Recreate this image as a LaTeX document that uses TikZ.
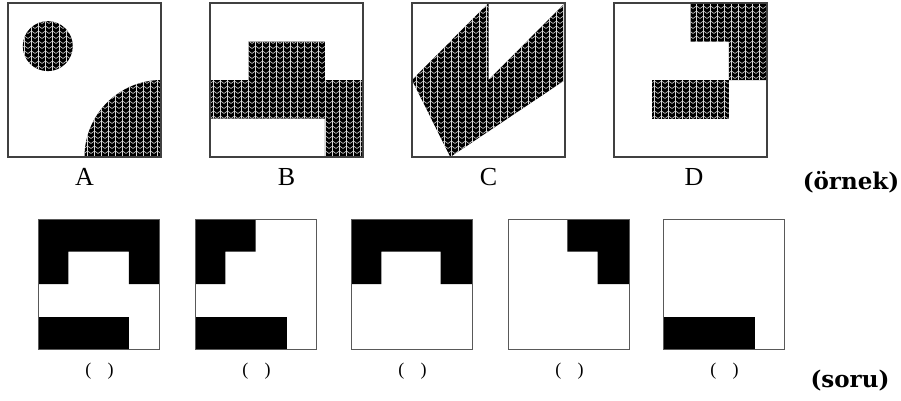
\documentclass[tikz,border=0pt]{standalone}
\usepackage{fontspec}
\setmainfont{Liberation Serif}
\newfontfamily\tagfont{DejaVu Serif}
\usetikzlibrary{patterns}

% knitted texture, drawn white over a black base
\pgfdeclarepatternformonly{knit}{\pgfqpoint{-1pt}{-1pt}}{\pgfqpoint{8pt}{6pt}}{\pgfqpoint{7pt}{5pt}}{
  \pgfsetlinewidth{0.55pt}
  \pgfpathmoveto{\pgfqpoint{0pt}{1.5pt}}
  \pgfpathlineto{\pgfqpoint{3.5pt}{4pt}}
  \pgfpathlineto{\pgfqpoint{7pt}{1.5pt}}
  \pgfusepath{stroke}
  \pgfsetlinewidth{0.45pt}
  \pgfpathmoveto{\pgfqpoint{3.5pt}{-0.5pt}}
  \pgfpathlineto{\pgfqpoint{3.5pt}{5.5pt}}
  \pgfusepath{stroke}
}

\begin{document}
\begin{tikzpicture}[x=1pt,y=-1pt,
    panel/.style={draw=black!75, line width=1.1pt},
    answer/.style={draw=black!65, line width=1pt},
    knit/.style={preaction={fill=black}, pattern=knit, pattern color=white!85!black},
    letter/.style={font=\fontsize{26}{30}\selectfont},
    blank/.style={font=\fontsize{18}{22}\selectfont},
    tag/.style={font=\tagfont\fontsize{23}{28}\selectfont\bfseries}]
  \useasboundingbox (0,0) rectangle (901,400);

  % Example A
  \begin{scope}[shift={(8,3)}, x=153pt, y=-154pt]
    \fill[knit] (0.26,0.28) circle[radius=25pt];
    \fill[knit] (0.5,1) arc[start angle=180, end angle=90, radius=77pt] -- (1,1) -- cycle;
    \draw[panel] (0,0) rectangle (1,1);
  \end{scope}

  % Example B
  \begin{scope}[shift={(210,3)}, x=153pt, y=-154pt]
    \fill[knit] (0.25,0.25) -- (0.75,0.25) -- (0.75,0.5) -- (1,0.5) -- (1,1) -- (0.75,1)
      -- (0.75,0.75) -- (0,0.75) -- (0,0.5) -- (0.25,0.5) -- cycle;
    \draw[panel] (0,0) rectangle (1,1);
  \end{scope}

  % Example C
  \begin{scope}[shift={(412,3)}, x=153pt, y=-154pt]
    \fill[knit] (0,0.5) -- (0.5,0) -- (0.5,0.5) -- (1,0) -- (1,0.5) -- (0.25,1) -- cycle;
    \draw[panel] (0,0) rectangle (1,1);
  \end{scope}

  % Example D
  \begin{scope}[shift={(614,3)}, x=153pt, y=-154pt]
    \fill[knit] (0.5,0) -- (1,0) -- (1,0.5) -- (0.75,0.5) -- (0.75,0.25) -- (0.5,0.25) -- cycle;
    \fill[knit] (0.25,0.5) rectangle (0.75,0.75);
    \draw[panel] (0,0) rectangle (1,1);
  \end{scope}

  % Labels of the examples
  \foreach \x/\t in {84.5/A, 286.5/B, 488.5/C, 694/D}
    \node[letter] (lab\t) at (\x,177) {\t};
  \node[tag] (ornek) at (851,182) {(örnek)};

  % Question pieces
  \begin{scope}[shift={(38,219)}, x=121pt, y=-130pt]
    \fill (0,0) -- (1,0) -- (1,0.5) -- (0.75,0.5) -- (0.75,0.25) -- (0.25,0.25) -- (0.25,0.5) -- (0,0.5) -- cycle;
    \fill (0,0.75) rectangle (0.75,1);
  \end{scope}
  \begin{scope}[shift={(195,219)}, x=121pt, y=-130pt]
    \fill (0,0) -- (0.5,0) -- (0.5,0.25) -- (0.25,0.25) -- (0.25,0.5) -- (0,0.5) -- cycle;
    \fill (0,0.75) rectangle (0.76,1);
  \end{scope}
  \begin{scope}[shift={(351,219)}, x=121pt, y=-130pt]
    \fill (0,0) -- (1,0) -- (1,0.5) -- (0.74,0.5) -- (0.74,0.25) -- (0.25,0.25) -- (0.25,0.5) -- (0,0.5) -- cycle;
  \end{scope}
  \begin{scope}[shift={(508,219)}, x=121pt, y=-130pt]
    \fill (0.49,0) -- (1,0) -- (1,0.5) -- (0.74,0.5) -- (0.74,0.25) -- (0.49,0.25) -- cycle;
  \end{scope}
  \begin{scope}[shift={(663,219)}, x=121pt, y=-130pt]
    \fill (0,0.75) rectangle (0.76,1);
  \end{scope}

  % Frames and blanks
  \foreach \x [count=\i] in {38,195,351,508,663} {
    \draw[answer] (\x,219) rectangle ++(121,130);
    \node[blank] (blank\i) at (\x+61.5,371) {(\hspace{0.9em})};
  }
  \node[tag] (soru) at (850,381) {(soru)};
\end{tikzpicture}
\end{document}
